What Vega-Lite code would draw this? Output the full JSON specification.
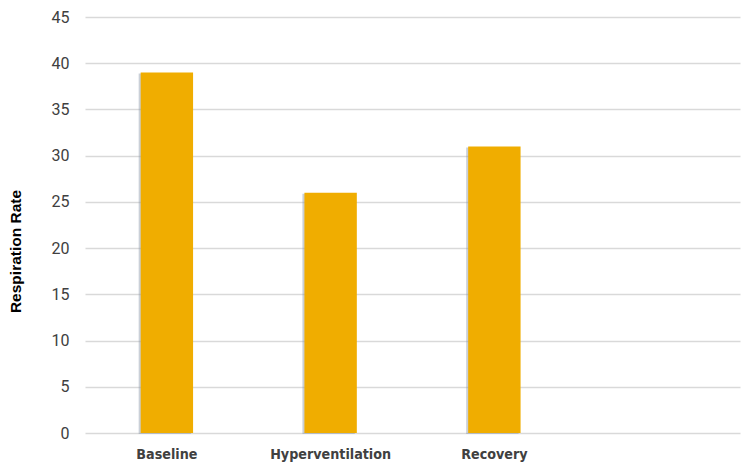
{
  "$schema": "https://vega.github.io/schema/vega-lite/v6.json",
  "width": 750,
  "height": 475,
  "autosize": {"type": "fit", "contains": "padding"},
  "padding": {"left": 8, "top": 9, "right": 10, "bottom": 13},
  "background": "white",
  "data": {"values": [
    {"phase": "Baseline", "rate": 39},
    {"phase": "Hyperventilation", "rate": 26},
    {"phase": "Recovery", "rate": 31}
  ]},
  "encoding": {
    "x": {
      "field": "phase", "type": "nominal", "sort": null,
      "scale": {"domain": ["Baseline", "Hyperventilation", "Recovery", " "], "paddingInner": 0.68, "paddingOuter": 0.34},
      "axis": {"title": null, "labelAngle": 0, "domain": false, "ticks": false, "labelFont": "DejaVu Sans Condensed, Roboto, sans-serif", "labelFontSize": 14.2, "labelFontWeight": "bold", "labelColor": "#404040", "labelPadding": 14}
    },
    "y": {
      "field": "rate", "type": "quantitative",
      "scale": {"domain": [0, 45], "nice": false},
      "axis": {"title": "Respiration Rate", "values": [0,5,10,15,20,25,30,35,40,45], "domain": false, "ticks": false, "gridColor": "#d9d9d9", "gridWidth": 1.5, "labelFont": "Roboto, sans-serif", "labelFontSize": 16, "labelColor": "#404040", "labelPadding": 16, "titleFont": "Liberation Sans, Arial, sans-serif", "titleFontSize": 15.5, "titleFontWeight": "bold", "titleColor": "#000000", "titlePadding": 28, "titleY": 234}
    }
  },
  "layer": [
    {"mark": {"type": "bar", "color": "#8a96a8", "opacity": 0.45, "xOffset": -2, "yOffset": 1}},
    {"mark": {"type": "bar", "color": "#F0AD00"}}
  ],
  "config": {"view": {"stroke": null}}
}
